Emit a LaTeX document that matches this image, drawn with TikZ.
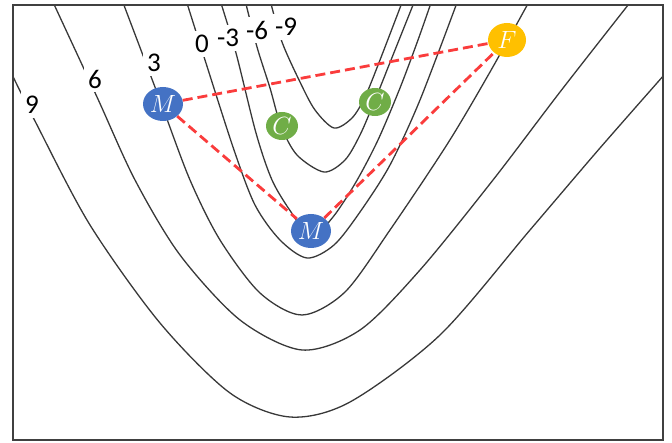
\documentclass[tikz,border=0pt]{standalone}
\usepackage{fontspec}
\newfontfamily\levelfont{Carlito}
\usetikzlibrary{shapes,positioning,calc}

\definecolor{agentblue}{RGB}{68,114,196}
\definecolor{agentgreen}{RGB}{112,173,71}
\definecolor{agentgold}{RGB}{255,192,0}
\definecolor{pathred}{RGB}{250,60,60}

\tikzset{
  contour/.style={line width=1.3pt, black!78},
  level/.style={fill=white, inner sep=4pt, font=\levelfont\fontsize{27}{27}\selectfont},
  agent/.style={ellipse, inner sep=0pt, minimum width=40pt, minimum height=34pt,
    text=white, font=\fontsize{24}{24}\selectfont},
  move/.style={pathred, line width=2.8pt, dash pattern=on 10pt off 5pt}
}

\begin{document}
\begin{tikzpicture}[x=1pt,y=-1pt]
\useasboundingbox (0,0) rectangle (672,443);

% Contour lines
\begin{scope}
  \clip (13,5) rectangle (663,440);
  \draw[contour] plot[smooth] coordinates {(5,60) (36,123) (90,225) (160,323) (230,393) (290,417) (350,402) (440,335) (530,230) (600,148) (672,66)};
  \draw[contour] plot[smooth] coordinates {(52,0) (97,97) (135,180) (180,255) (240,320) (302,350) (360,330) (420,270) (493,180) (560,92) (632,0)};
  \draw[contour] plot[smooth] coordinates {(122,0) (161,103) (190,180) (220,240) (260,293) (302,315) (345,292) (390,230) (448,143) (490,72) (530,0)};
  \draw[contour] plot[smooth] coordinates {(186,0) (205,60) (234,150) (255,205) (280,240) (307,258) (334,245) (360,212) (390,165) (420,100) (458,0)};
  \draw[contour] plot[smooth] coordinates {(220,0) (236,53) (256,133) (272,180) (291,212) (311,237) (333,217) (356,182) (378,140) (400,88) (418,40) (432,0)};
  \draw[contour] plot[smooth] coordinates {(245,0) (257,47) (270,88) (281,126) (297,155) (324,172) (345,160) (360,135) (375,100) (395,50) (415,0)};
  \draw[contour] plot[smooth] coordinates {(270,0) (282,42) (300,82) (315,110) (334,128) (352,118) (365,97) (380,60) (403,0)};
\end{scope}

% Frame
\draw[line width=2pt, black!75] (13,5) rectangle (663,440);

% Level labels
\node[level] (l9) at (32,105) {9};
\node[level] (l6) at (95,79) {6};
\node[level] (l3) at (154,63) {3};
\node[level] (l0) at (202,44) {0};
\node[level] (lm3) at (228,38) {-3};
\node[level] (lm6) at (257,30) {-6};
\node[level] (lm9) at (286,27) {-9};

% Agents
\node[agent, fill=agentblue] (m1) at (163,104) {$M$};
\node[agent, fill=agentblue] (m2) at (311,231) {$M$};
\node[agent, fill=agentgreen, minimum width=32pt, minimum height=28pt] (c1) at (282,126) {$C$};
\node[agent, fill=agentgreen, minimum width=32pt, minimum height=28pt] (c2) at (375,102) {$C$};
\node[agent, fill=agentgold, minimum width=38pt] (f) at (507,40) {$F$};

% Moves
\draw[move] (m1) -- (f);
\draw[move] (m1) -- (m2);
\draw[move] (m2) -- (f);
\end{tikzpicture}
\end{document}
